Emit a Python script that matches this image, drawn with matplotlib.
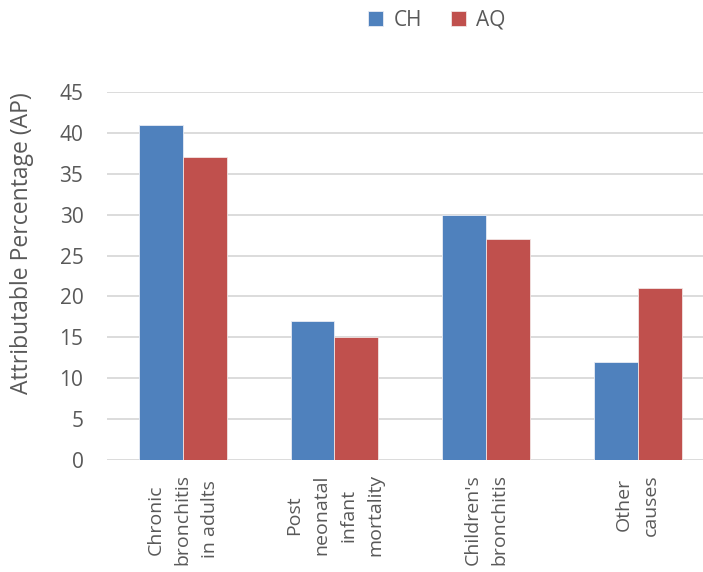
import matplotlib.pyplot as plt
import numpy as np

plt.rcParams['font.family'] = ['Open Sans', 'DejaVu Sans']

# attributable percentage per cause of disease
causes = ["Chronic\nbronchitis\nin adults",
          "Post\nneonatal\ninfant\nmortality",
          "Children's\nbronchitis",
          "Other\ncauses"]
ch_vals = [41, 17, 30, 12]
aq_vals = [37, 15, 27, 21]
yticks = [0, 5, 10, 15, 20, 25, 30, 35, 40, 45]

cBlue = '#4F81BD'
cRed = '#C0504D'
cText = '#595959'
cGrid = '#D9D9D9'

fig = plt.figure(figsize=(7.03, 5.72), dpi=100)
ax = fig.add_axes([107/703, 112/572, 1 - 107/703, 368/572])

x = np.arange(len(causes))
w = 0.29
ax.bar(x - w/2, ch_vals, w, color=cBlue, edgecolor='#E8ECF4', linewidth=0.6,
       label='CH', zorder=3)
ax.bar(x + w/2, aq_vals, w, color=cRed, edgecolor='#F2E4E4', linewidth=0.6,
       label='AQ', zorder=3)

ax.set_xlim(-0.5, 3.43)
ax.set_ylim(0, 45)
ax.set_yticks(yticks)
ax.yaxis.grid(True, color=cGrid, linewidth=1.3, zorder=0)
ax.set_axisbelow(True)
for s in ax.spines.values():
    s.set_visible(False)

ax.set_xticks(x)
ax.set_xticklabels(causes, rotation=90, ha='center', va='top',
                   multialignment='center', fontsize=14, color=cText,
                   linespacing=1.65)
ax.tick_params(axis='both', length=0, labelcolor=cText)
ax.tick_params(axis='y', labelsize=15, pad=17)
ax.tick_params(axis='x', pad=10)

ax.set_ylabel("Attributable Percentage (AP)", fontsize=16.5, color=cText)
ax.yaxis.set_label_coords(-0.122, 0.59)

fig.legend(loc='center', bbox_to_anchor=(437/703, 1 - 20/572), ncol=2,
           frameon=False, fontsize=15, handlelength=0.7, handleheight=0.7,
           handletextpad=0.5, columnspacing=1.4, labelcolor=cText)

fig.savefig('out.png', dpi=100)
